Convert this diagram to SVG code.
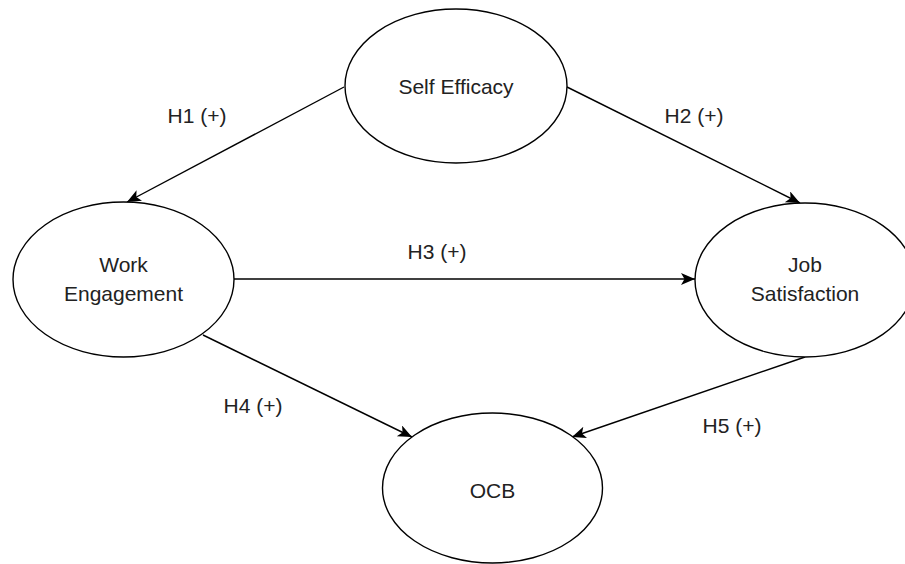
<svg xmlns="http://www.w3.org/2000/svg" width="905" height="564" viewBox="0 0 905 564">
<style>
.node ellipse{fill:#fff;stroke:#000;stroke-width:1.4}
.node text{font-family:"Liberation Sans",Arial,sans-serif;font-size:21px;fill:#222;text-anchor:middle}
.lbl{font-family:"Liberation Sans",Arial,sans-serif;font-size:21px;fill:#222;text-anchor:middle}
.edge{stroke:#000;stroke-width:1.4;fill:none;marker-end:url(#arr)}
</style>
<defs>
<marker id="arr" markerUnits="userSpaceOnUse" markerWidth="16" markerHeight="14" refX="14" refY="6" orient="auto">
<path d="M0,0 L14,6 L0,12 L3.5,6 Z" fill="#000"/>
</marker>
</defs>
<rect width="905" height="564" fill="#fff"/>
<g id="connectors">
<line class="edge" x1="344" y1="87" x2="127" y2="202"/>
<line class="edge" x1="567" y1="87" x2="800" y2="203"/>
<line class="edge" x1="234" y1="279" x2="695" y2="279"/>
<line class="edge" x1="203" y1="335" x2="412" y2="437"/>
<line class="edge" x1="805" y1="357" x2="572" y2="437"/>
<text class="lbl" x="197" y="123">H1 (+)</text>
<text class="lbl" x="694" y="123">H2 (+)</text>
<text class="lbl" x="437" y="259">H3 (+)</text>
<text class="lbl" x="253" y="413">H4 (+)</text>
<text class="lbl" x="732" y="433">H5 (+)</text>
</g>
<g id="self-efficacy" class="node">
<ellipse cx="456" cy="86" rx="111" ry="77"/>
<text x="456" y="94">Self Efficacy</text>
</g>
<g id="work-engagement" class="node">
<ellipse cx="123.5" cy="279.5" rx="110.5" ry="77.5"/>
<text x="123.5" y="272">Work</text>
<text x="123.5" y="301">Engagement</text>
</g>
<g id="job-satisfaction" class="node">
<ellipse cx="805" cy="280" rx="110" ry="77"/>
<text x="805" y="272">Job</text>
<text x="805" y="301">Satisfaction</text>
</g>
<g id="ocb" class="node">
<ellipse cx="492.5" cy="488" rx="110" ry="75"/>
<text x="492.5" y="498">OCB</text>
</g>
</svg>
